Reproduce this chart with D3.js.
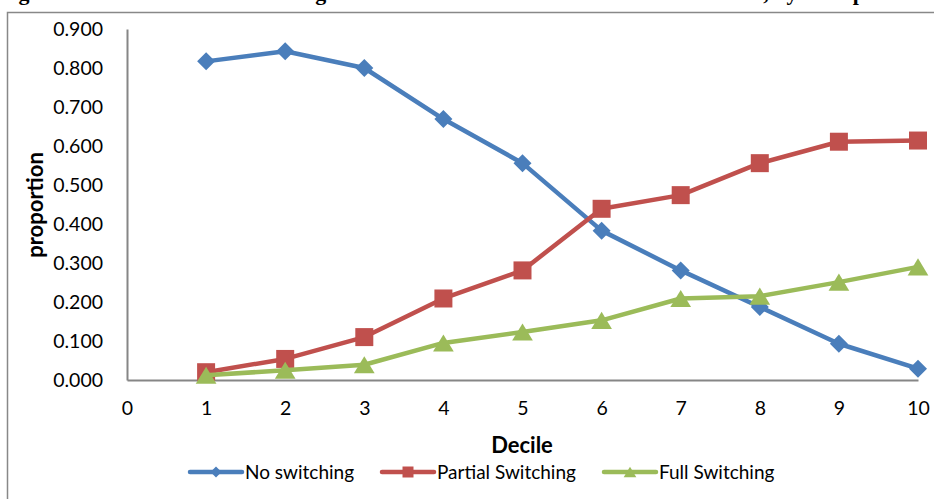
<!DOCTYPE html>
<html>
<head>
<meta charset="utf-8">
<script src="https://cdn.jsdelivr.net/npm/d3@7"></script>
<style>
  body { margin: 0; background: #fff; }
  svg { display: block; }
  .tick text { font-family: Lato, sans-serif; font-size: 19.5px; fill: #000; }
</style>
</head>
<body>
<svg width="934" height="499"></svg>
<script>
var deciles = [1, 2, 3, 4, 5, 6, 7, 8, 9, 10];
var noSwitching = [0.817, 0.843, 0.800, 0.669, 0.556, 0.383, 0.281, 0.187, 0.093, 0.029];
var partialSwitching = [0.020, 0.054, 0.110, 0.209, 0.281, 0.439, 0.474, 0.556, 0.611, 0.614];
var fullSwitching = [0.012, 0.025, 0.039, 0.095, 0.123, 0.153, 0.209, 0.215, 0.251, 0.290];
var seriesNames = ["No switching", "Partial Switching", "Full Switching"];
var xTicks = [0, 1, 2, 3, 4, 5, 6, 7, 8, 9, 10];
var yTicks = [0, 0.1, 0.2, 0.3, 0.4, 0.5, 0.6, 0.7, 0.8, 0.9];

var svg = d3.select("svg");

var x = d3.scaleLinear().domain([0, 10]).range([127, 918]);
var y = d3.scaleLinear().domain([0, 0.9]).range([380, 29]);

var series = [
  {name: seriesNames[0], values: noSwitching, color: "#4A7EBB", shape: "diamond"},
  {name: seriesNames[1], values: partialSwitching, color: "#C0504D", shape: "square"},
  {name: seriesNames[2], values: fullSwitching, color: "#9BBB59", shape: "triangle"}
];

// cut-off title at the very top
svg.append("text")
    .attr("x", -1)
    .attr("y", 0)
    .style("font-family", "'Liberation Serif', serif")
    .style("font-weight", "bold")
    .style("font-size", "22px")
    .text("Figure 3: Household fuel switching across the total household income distribution, by Group");

// outer chart border (open to the right and bottom)
svg.append("path")
    .attr("d", "M7.5,499 V12.5 H934")
    .attr("fill", "none")
    .attr("stroke", "#888")
    .attr("stroke-width", 1.5);

svg.append("g")
    .attr("transform", "translate(127,0)")
    .call(d3.axisLeft(y).tickValues(yTicks).tickFormat(d3.format(".3f")).tickSize(0).tickPadding(24))
    .call(function(g) { g.select(".domain").attr("stroke", "#868686").attr("stroke-width", 2); });

svg.append("g")
    .attr("transform", "translate(0,380)")
    .call(d3.axisBottom(x).tickValues(xTicks).tickFormat(d3.format("d")).tickSize(0).tickPadding(21))
    .call(function(g) { g.select(".domain").attr("stroke", "#868686").attr("stroke-width", 2); });

svg.append("text")
    .attr("transform", "translate(43,205) rotate(-90)")
    .attr("text-anchor", "middle")
    .style("font-family", "Lato, sans-serif")
    .style("font-weight", "bold")
    .style("font-size", "22px")
    .text("proportion");

svg.append("text")
    .attr("x", 522)
    .attr("y", 453)
    .attr("text-anchor", "middle")
    .style("font-family", "Lato, sans-serif")
    .style("font-weight", "bold")
    .style("font-size", "22px")
    .text("Decile");

var line = d3.line()
    .x(function(d, i) { return x(deciles[i]); })
    .y(function(d) { return y(d); });

function marker(shape, s) {
  if (shape === "diamond") return "M0," + (-s) + "L" + s + ",0L0," + s + "L" + (-s) + ",0Z";
  if (shape === "square") return "M" + (-s) + "," + (-s) + "H" + s + "V" + s + "H" + (-s) + "Z";
  return "M0," + (-s * 0.95) + "L" + (s * 1.15) + "," + (s * 0.95) + "H" + (-s * 1.15) + "Z";
}
var markerSize = {diamond: 9, square: 9, triangle: 9};

series.forEach(function(s) {
  var g = svg.append("g");
  g.append("path")
      .attr("d", line(s.values))
      .attr("fill", "none")
      .attr("stroke", s.color)
      .attr("stroke-width", 4.5)
      .attr("stroke-linejoin", "round");
  g.selectAll("path.m")
    .data(s.values)
    .enter().append("path")
      .attr("class", "m")
      .attr("transform", function(d, i) { return "translate(" + x(deciles[i]) + "," + y(d) + ")"; })
      .attr("d", marker(s.shape, markerSize[s.shape]))
      .attr("fill", s.color);
});

// legend
var legendX = [190, 382, 604];
var legend = svg.selectAll(".legend")
  .data(series)
  .enter().append("g")
    .attr("class", "legend")
    .attr("transform", function(d, i) { return "translate(" + legendX[i] + ",472)"; });

legend.append("line")
    .attr("x1", 0).attr("x2", 52)
    .attr("stroke", function(d) { return d.color; })
    .attr("stroke-width", 4.5)
    .attr("stroke-linecap", "round");

legend.append("path")
    .attr("transform", "translate(26,0)")
    .attr("d", function(d) { return marker(d.shape, 5.5); })
    .attr("fill", function(d) { return d.color; });

legend.append("text")
    .attr("x", 55)
    .attr("dy", "0.35em")
    .style("font-family", "Lato, sans-serif")
    .style("font-size", "19px")
    .text(function(d) { return d.name; });
</script>
</body>
</html>
